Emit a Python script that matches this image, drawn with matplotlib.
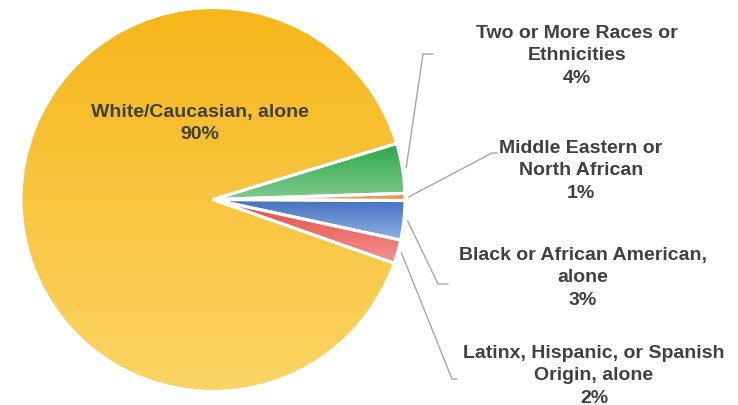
import numpy as np
import matplotlib
matplotlib.use("Agg")
import matplotlib.pyplot as plt
from matplotlib.colors import to_rgb

# Data
groups = ["White/Caucasian, alone",
          "Two or More Races or\nEthnicities",
          "Middle Eastern or\nNorth African",
          "Black or African American,\nalone",
          "Latinx, Hispanic, or Spanish\nOrigin, alone"]
shares = [89.9, 4.2, 0.6, 3.3, 2.0]

# gradient colours per slice (top, bottom)
grad = [("#F6B619", "#FBD564"),
        ("#2AA748", "#82CA90"),
        ("#EE8A3E", "#F4A66B"),
        ("#436FC0", "#92B2E3"),
        ("#E64747", "#F2948D")]

W, H = 738, 406
fig = plt.figure(figsize=(W / 100, H / 100), dpi=100)
ax = fig.add_axes([0, 0, 1, 1])


def py(y):
    # pixel row (from top) -> data y
    return H - y


cx, cy, R = 213, py(200.5), 192
wedges, _ = ax.pie(shares, center=(cx, cy), radius=R, startangle=-19.4,
                   counterclock=False,
                   wedgeprops=dict(edgecolor="white", linewidth=2.2))

# vertical gradient fill for each slice
for w, (top, bot) in zip(wedges, grad):
    ext = w.get_path().get_extents()
    t = np.linspace(0, 1, 256)[:, None]
    img = (1 - t) * np.array(to_rgb(top)) + t * np.array(to_rgb(bot))
    im = ax.imshow(img[:, None, :], extent=(ext.x0, ext.x1, ext.y0, ext.y1),
                   origin="upper", aspect="auto", zorder=1, interpolation="bilinear")
    im.set_clip_path(w)
    w.set_facecolor("none")
    w.set_zorder(3)

txt_kw = dict(ha="center", va="center", fontsize=14, fontweight="bold",
              color="#404040", family="Liberation Sans", linespacing=1.45)

pct = [f"{v / sum(shares) * 100:.0f}%" for v in shares]

# label inside the big slice
ax.text(200, py(123.5), groups[0] + "\n" + pct[0], **txt_kw)

# outside labels with leader lines
label_pos = [(577, 56), (581, 171), (583, 278), (594, 376)]
elbows = [((423, 55), (433, 55)), ((492, 154), (497, 154)),
          ((438, 285), (448, 285)), ((452, 380), (457, 380))]
for i, w in enumerate(wedges[1:], start=1):
    mid = np.deg2rad((w.theta1 + w.theta2) / 2)
    x0 = cx + R * 1.02 * np.cos(mid)
    y0 = cy + R * 1.02 * np.sin(mid)
    (ex, ey), (hx, hy) = elbows[i - 1]
    ax.plot([x0, ex, hx], [y0, py(ey), py(hy)], color="#A6A6A6", lw=1, zorder=2)
    lx, ly = label_pos[i - 1]
    ax.text(lx, py(ly), groups[i] + "\n" + pct[i], **txt_kw)

ax.set_xlim(0, W)
ax.set_ylim(0, H)
ax.set_aspect("equal")
ax.axis("off")
fig.savefig("out.png", dpi=100)
